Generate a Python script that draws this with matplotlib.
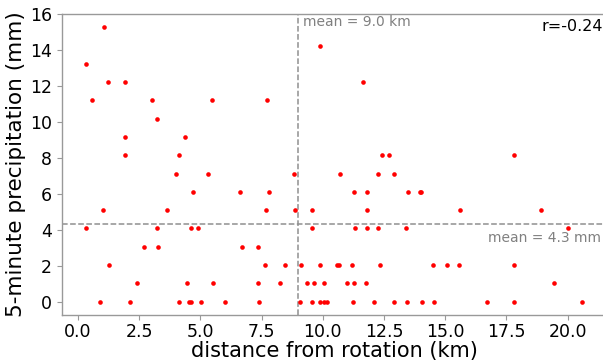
import matplotlib
matplotlib.use("Agg")
import matplotlib.pyplot as plt
import numpy as np

# gauge tip size (mm) -> precipitation values are multiples of it
TIP_MM = 1.016

# distance from rotation (km) grouped by number of gauge tips (precip = tips * TIP_MM)
rows = {
    15: [1.05],
    14: [9.90],
    13: [0.34],
    12: [1.21, 1.92, 11.62],
    11: [0.59, 3.01, 5.46, 7.70],
    10: [3.23],
    9: [1.91, 4.36],
    8: [1.91, 4.12, 12.40, 12.70, 17.81],
    7: [3.99, 5.30, 8.82, 10.69, 12.27, 12.91],
    6: [4.71, 6.62, 7.80, 11.28, 11.80, 13.49, 13.95, 14.02],
    5: [1.01, 3.64, 7.67, 8.87, 9.56, 11.80, 15.59, 18.92],
    4: [0.34, 3.23, 4.61, 4.91, 9.56, 11.30, 11.81, 12.27, 13.38, 20.02],
    3: [2.71, 3.25, 6.71, 7.37],
    2: [1.28, 7.65, 8.44, 9.12, 9.90, 10.58, 10.66, 11.18, 12.34, 14.49, 15.07, 15.58, 17.81],
    1: [2.43, 4.44, 5.51, 7.35, 8.27, 9.37, 9.63, 10.06, 10.99, 11.28, 11.78, 19.46],
    0: [0.90, 2.14, 4.13, 4.52, 4.62, 5.04, 6.01, 7.41, 9.08, 9.57, 9.88, 10.05, 10.16,
        11.23, 12.09, 12.92, 13.44, 14.04, 14.54, 16.69, 17.80, 20.58],
}

distance_km = []
precip_mm = []
for k, xs in rows.items():
    for x in xs:
        distance_km.append(x)
        precip_mm.append(k * TIP_MM)

mean_distance = 9.0
mean_precip = 4.3
r_value = -0.24

fig = plt.figure(figsize=(6.03, 3.63), dpi=100)
ax = fig.add_axes([61.6 / 603, (363 - 315.3) / 363, 545 / 603, 301.7 / 363])

ax.scatter(distance_km, precip_mm, s=11, color='red', linewidths=0, zorder=3)

ax.axvline(mean_distance, color='#909090', linestyle='--', linewidth=1.1, zorder=1)
ax.axhline(mean_precip, color='#909090', linestyle='--', linewidth=1.1, zorder=1)

ax.text(mean_distance + 0.2, 15.9, f"mean = {mean_distance:.1f} km", color='#808080',
        fontsize=10, ha='left', va='top')
fig.text(601.5 / 603, (363 - 238.5) / 363, f"mean = {mean_precip:.1f} mm", color='#808080',
         fontsize=10, ha='right', va='center')
fig.text(603 / 603, (363 - 26.5) / 363, f"r={r_value:.2f}", color='black',
         fontsize=11.5, ha='right', va='center')

ax.set_xticks(np.arange(0, 20.01, 2.5))
ax.set_yticks(np.arange(0, 16.1, 2))
ax.set_xlim(-0.67, 21.59)
ax.set_ylim(-0.762, 16.0)
ax.xaxis.set_major_formatter(matplotlib.ticker.FormatStrFormatter('%.1f'))

ax.tick_params(labelsize=12.5, color='#999999', length=3.5)
ax.tick_params(axis='x', pad=2)
for s in ax.spines.values():
    s.set_color('#999999')
    s.set_linewidth(1.0)
ax.spines['right'].set_visible(False)

ax.set_xlabel("distance from rotation (km)", fontsize=15, labelpad=0)
ax.set_ylabel("5-minute precipitation (mm)", fontsize=15.5, labelpad=3)

fig.savefig("out.png", dpi=100)
